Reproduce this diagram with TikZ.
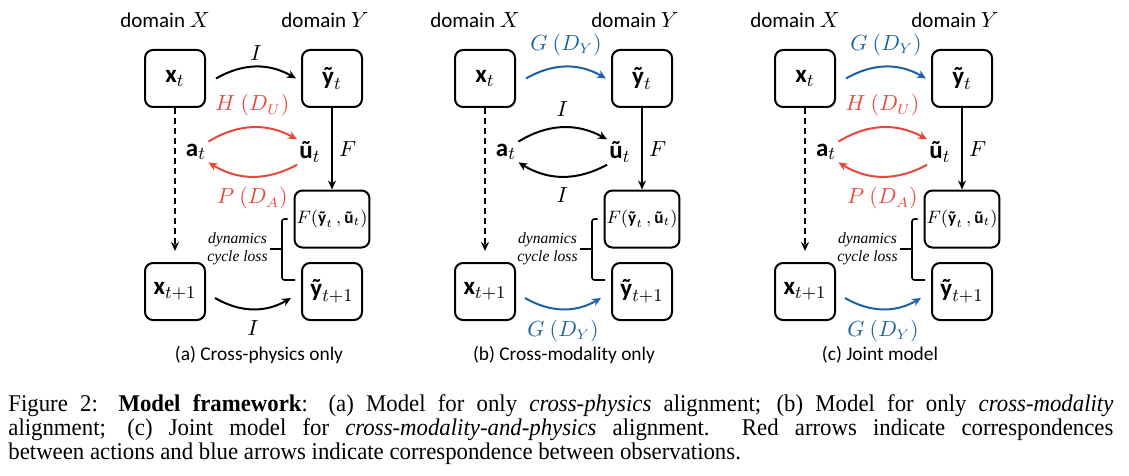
\documentclass[tikz,border=0pt]{standalone}
\usepackage{fontspec}
\setmainfont{Liberation Serif}
\setsansfont{Carlito}
\newfontfamily\capfont{Liberation Serif}[FakeStretch=0.95]
\usetikzlibrary{arrows.meta, positioning}

\definecolor{physred}{RGB}{232,72,60}
\definecolor{modblue}{RGB}{30,96,164}
\newcommand{\vb}[1]{\textsf{\textbf{#1}}}

\begin{document}
\begin{tikzpicture}[x=0.5pt, y=-0.5pt,
  box/.style={draw, rectangle, rounded corners=4pt, line width=1pt, minimum width=30pt, minimum height=28.5pt, inner sep=1pt, font=\fontsize{12.5}{14}\selectfont},
  fbox/.style={box, font=\fontsize{8.6}{10}\selectfont},
  sym/.style={inner sep=1pt, font=\fontsize{12.5}{14}\selectfont},
  dom/.style={font=\sffamily\fontsize{10.5}{12}\selectfont},
  lab/.style={inner sep=1pt, font=\fontsize{10.5}{12}\selectfont},
  loss/.style={inner sep=1pt, align=center, font=\itshape\fontsize{7.8}{8.8}\selectfont},
  sub/.style={font=\sffamily\fontsize{9.7}{12}\selectfont},
  arr/.style={-{Stealth[length=4.5pt, width=4pt]}, line width=1pt},
  dasharr/.style={arr, dashed, line width=0.8pt, dash pattern=on 3pt off 2pt, shorten >=5.5pt},
  brk/.style={line width=0.8pt, rounded corners=1.2pt}
]
\useasboundingbox (0,0) rectangle (1129,476);

% ---- (a) Cross-physics only ----
\node[dom] (dx-a) at (165,20) {domain $X$};
\node[dom] (dy-a) at (325,20) {domain $Y$};
\node[box] (xt-a) at (175,78.5) {$\vb{x}_t$};
\node[box] (yt-a) at (332,78.5) {$\vb{ỹ}_t$};
\node[sym] (at-a) at (196,152) {$\vb{a}_t$};
\node[sym] (ut-a) at (310,152) {$\vb{ũ}_t$};
\node[fbox] (fy-a) at (332,219) {$F(\vb{ỹ}_t\,,\vb{ũ}_t)$};
\node[box] (yn-a) at (332,291.5) {$\vb{ỹ}_{t+1}$};
\node[box] (xn-a) at (175,291.5) {$\vb{x}_{t+1}$};
\node[loss, anchor=east] (dyn-a) at (270,249) {dynamics\\cycle loss};
\node[sub] (sub-a) at (259,355) {(a) Cross-physics only};
\draw[arr] ([xshift=5pt]xt-a.east) to[bend left=30] node[lab, above=1.5pt] {$I$} ([xshift=-2.5pt]yt-a.west);
\draw[arr, physred] (at-a.north east) to[bend left=30] node[lab, above=4pt] {$H\ (D_U)$} (ut-a.north west);
\draw[arr, physred] (ut-a.south west) to[bend left=30] node[lab, below=4pt] {$P\ (D_A)$} (at-a.south east);
\draw[arr] (yt-a) -- node[lab, right=2pt] {$F$} (fy-a);
\draw[dasharr] (xt-a) -- (xn-a);
\draw[arr] ([xshift=4.5pt,yshift=-3.25pt]xn-a.east) to[bend right=30] node[lab, below=4pt] {$I$} ([xshift=-5pt,yshift=-3.25pt]yn-a.west);
\draw[brk] ([xshift=-3pt]fy-a.west) -| ([xshift=-9.5pt,yshift=5.75pt]yn-a.west) -- ([xshift=-3pt,yshift=5.75pt]yn-a.west);
\draw[brk] (dyn-a.east) -- ++(13,0);

% ---- (b) Cross-modality only ----
\begin{scope}[xshift=155pt]
\node[dom] (dx-b) at (165,20) {domain $X$};
\node[dom] (dy-b) at (325,20) {domain $Y$};
\node[box] (xt-b) at (175,78.5) {$\vb{x}_t$};
\node[box] (yt-b) at (332,78.5) {$\vb{ỹ}_t$};
\node[sym] (at-b) at (196,152) {$\vb{a}_t$};
\node[sym] (ut-b) at (310,152) {$\vb{ũ}_t$};
\node[fbox] (fy-b) at (332,219) {$F(\vb{ỹ}_t\,,\vb{ũ}_t)$};
\node[box] (yn-b) at (332,291.5) {$\vb{ỹ}_{t+1}$};
\node[box] (xn-b) at (175,291.5) {$\vb{x}_{t+1}$};
\node[loss, anchor=east] (dyn-b) at (270,249) {dynamics\\cycle loss};
\node[sub] (sub-b) at (254,355) {(b) Cross-modality only};
\draw[arr, modblue] ([xshift=5pt]xt-b.east) to[bend left=30] node[lab, above=4pt] {$G\ (D_Y)$} ([xshift=-2.5pt]yt-b.west);
\draw[arr] (at-b.north east) to[bend left=30] node[lab, above=4pt] {$I$} (ut-b.north west);
\draw[arr] (ut-b.south west) to[bend left=30] node[lab, below=4pt] {$I$} (at-b.south east);
\draw[arr] (yt-b) -- node[lab, right=2pt] {$F$} (fy-b);
\draw[dasharr] (xt-b) -- (xn-b);
\draw[arr, modblue] ([xshift=4.5pt,yshift=-3.25pt]xn-b.east) to[bend right=30] node[lab, below=4pt] {$G\ (D_Y)$} ([xshift=-5pt,yshift=-3.25pt]yn-b.west);
\draw[brk] ([xshift=-3pt]fy-b.west) -| ([xshift=-9.5pt,yshift=5.75pt]yn-b.west) -- ([xshift=-3pt,yshift=5.75pt]yn-b.west);
\draw[brk] (dyn-b.east) -- ++(13,0);
\end{scope}

% ---- (c) Joint model ----
\begin{scope}[xshift=315pt]
\node[dom] (dx-c) at (165,20) {domain $X$};
\node[dom] (dy-c) at (325,20) {domain $Y$};
\node[box] (xt-c) at (175,78.5) {$\vb{x}_t$};
\node[box] (yt-c) at (332,78.5) {$\vb{ỹ}_t$};
\node[sym] (at-c) at (196,152) {$\vb{a}_t$};
\node[sym] (ut-c) at (310,152) {$\vb{ũ}_t$};
\node[fbox] (fy-c) at (332,219) {$F(\vb{ỹ}_t\,,\vb{ũ}_t)$};
\node[box] (yn-c) at (332,291.5) {$\vb{ỹ}_{t+1}$};
\node[box] (xn-c) at (175,291.5) {$\vb{x}_{t+1}$};
\node[loss, anchor=east] (dyn-c) at (270,249) {dynamics\\cycle loss};
\node[sub] (sub-c) at (250,355) {(c) Joint model};
\draw[arr, modblue] ([xshift=5pt]xt-c.east) to[bend left=30] node[lab, above=4pt] {$G\ (D_Y)$} ([xshift=-2.5pt]yt-c.west);
\draw[arr, physred] (at-c.north east) to[bend left=30] node[lab, above=4pt] {$H\ (D_U)$} (ut-c.north west);
\draw[arr, physred] (ut-c.south west) to[bend left=30] node[lab, below=4pt] {$P\ (D_A)$} (at-c.south east);
\draw[arr] (yt-c) -- node[lab, right=2pt] {$F$} (fy-c);
\draw[dasharr] (xt-c) -- (xn-c);
\draw[arr, modblue] ([xshift=4.5pt,yshift=-3.25pt]xn-c.east) to[bend right=30] node[lab, below=4pt] {$G\ (D_Y)$} ([xshift=-5pt,yshift=-3.25pt]yn-c.west);
\draw[brk] ([xshift=-3pt]fy-c.west) -| ([xshift=-9.5pt,yshift=5.75pt]yn-c.west) -- ([xshift=-3pt,yshift=5.75pt]yn-c.west);
\draw[brk] (dyn-c.east) -- ++(13,0);
\end{scope}

% ---- caption ----
\node[anchor=north west, inner sep=0pt, align=left, font=\capfont\fontsize{12}{12}\selectfont] (fig) at (8,394)
  {\makebox[552.5pt][s]{Figure 2: \textbf{Model framework}: (a) Model for only \emph{cross-physics} alignment; (b) Model for only \emph{cross-modality}}\\
   \makebox[552.5pt][s]{alignment; (c) Joint model for \emph{cross-modality-and-physics} alignment.\ \ Red arrows indicate correspondences}\\
   between actions and blue arrows indicate correspondence between observations.};

\end{tikzpicture}
\end{document}
